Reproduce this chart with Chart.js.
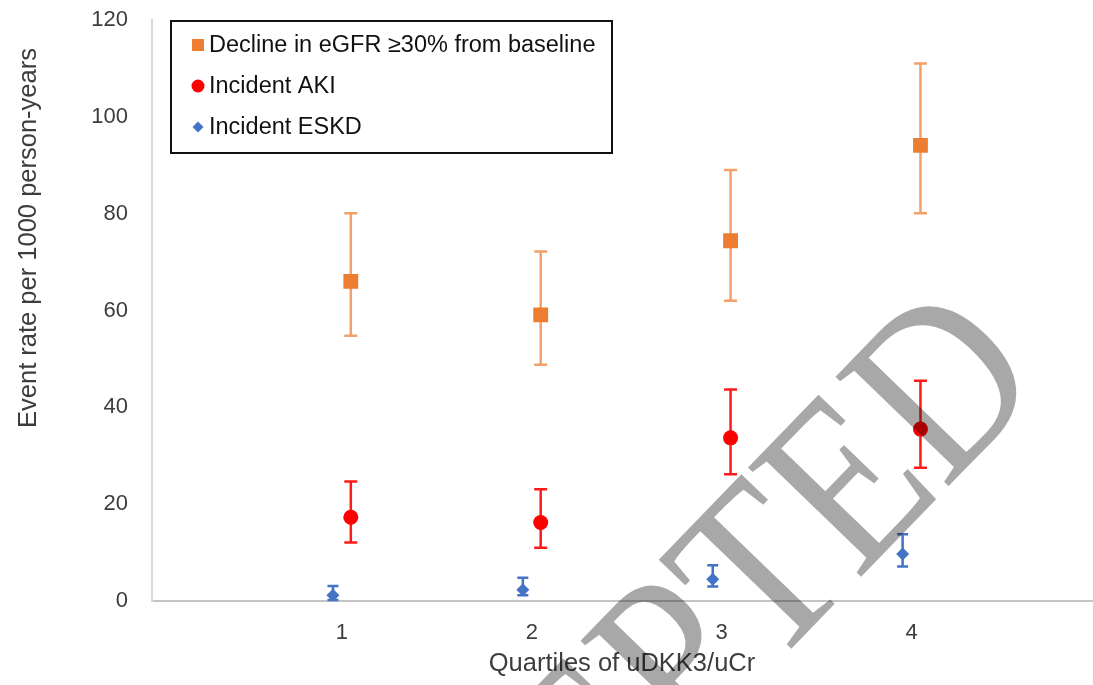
<!DOCTYPE html>
<html>
<head>
<meta charset="utf-8">
<script src="https://cdn.jsdelivr.net/npm/chart.js"></script>
<style>
  html, body { margin: 0; padding: 0; background: #fff; overflow: hidden; }
  #wrap { width: 1103px; height: 685px; position: relative; }
</style>
</head>
<body>
<div id="wrap"><canvas id="chart"></canvas></div>
<script>
// values
const quartiles = [1, 2, 3, 4];
const yTicks = [0, 20, 40, 60, 80, 100, 120];

const eGFRDecline = [66.0, 59.1, 74.4, 94.1];
const eGFRLow = [54.8, 48.8, 62.0, 80.1];
const eGFRHigh = [80.1, 72.2, 89.0, 111.0];

const akiRate = [17.3, 16.2, 33.7, 35.5];
const akiLow = [12.1, 11.0, 26.2, 27.5];
const akiHigh = [24.7, 23.1, 43.7, 45.5];

const eskdRate = [1.2, 2.3, 4.5, 9.7];
const eskdLow = [0.2, 1.2, 3.0, 7.1];
const eskdHigh = [3.1, 4.8, 7.4, 13.8];

const FONT = '"Liberation Sans", Arial, sans-serif';
const TEXT = '#3d3d3d';

function pts(vals, shift) {
  return quartiles.map((q, i) => ({ x: q + shift, y: vals[i] }));
}

// error bars, drawn under the markers
const errorBars = {
  id: 'errorBars',
  beforeDatasetsDraw(chart) {
    const ctx = chart.ctx;
    const y = chart.scales.y;
    chart.data.datasets.forEach((ds, i) => {
      const meta = chart.getDatasetMeta(i);
      ctx.save();
      ctx.strokeStyle = ds.errColor;
      ctx.lineWidth = 2.5;
      meta.data.forEach((pt, j) => {
        const top = y.getPixelForValue(ds.high[j]);
        const bot = y.getPixelForValue(ds.low[j]);
        const c = ds.capHalf;
        ctx.beginPath();
        ctx.moveTo(pt.x, top); ctx.lineTo(pt.x, bot);
        ctx.moveTo(pt.x - c, top); ctx.lineTo(pt.x + c, top);
        ctx.moveTo(pt.x - c, bot); ctx.lineTo(pt.x + c, bot);
        ctx.stroke();
      });
      ctx.restore();
    });
  }
};

// boxed legend, axis titles and the watermark
const extras = {
  id: 'extras',
  afterDraw(chart) {
    const ctx = chart.ctx;
    ctx.save();
    // legend box
    ctx.strokeStyle = '#111';
    ctx.lineWidth = 2;
    ctx.strokeRect(171, 21, 441, 132);
    ctx.font = '23.5px ' + FONT;
    ctx.textBaseline = 'middle';
    const rows = [45, 86, 127];
    chart.data.datasets.forEach((ds, i) => {
      const cy = rows[i], cx = 198;
      ctx.fillStyle = ds.backgroundColor;
      ctx.beginPath();
      if (ds.pointStyle === 'rect') ctx.rect(cx - 6, cy - 6, 12, 12);
      else if (ds.pointStyle === 'circle') ctx.arc(cx, cy, 6.5, 0, Math.PI * 2);
      else { ctx.moveTo(cx, cy - 5.5); ctx.lineTo(cx + 5.5, cy); ctx.lineTo(cx, cy + 5.5); ctx.lineTo(cx - 5.5, cy); }
      ctx.fill();
      ctx.fillStyle = '#111';
      ctx.textAlign = 'left';
      ctx.fillText(ds.label, 209, cy + 1);
    });
    // axis titles
    ctx.fillStyle = TEXT;
    ctx.textAlign = 'center';
    ctx.font = '25.5px ' + FONT;
    ctx.fillText('Quartiles of uDKK3/uCr', 622, 664);
    ctx.translate(29, 238);
    ctx.rotate(-Math.PI / 2);
    ctx.fillText('Event rate per 1000 person-years', 0, 0);
    ctx.restore();

    // "ACCEPTED" watermark
    ctx.save();
    ctx.globalCompositeOperation = 'multiply';
    ctx.fillStyle = '#a8a8a8';
    ctx.font = '240px "Liberation Serif", "Times New Roman", serif';
    ctx.textAlign = 'right';
    ctx.textBaseline = 'alphabetic';
    ctx.translate(1048, 383);
    ctx.rotate(-46 * Math.PI / 180);
    ctx.scale(0.86, 1);
    ctx.fillText('ACCEPTED', 0, 0);
    ctx.restore();
  }
};

new Chart(document.getElementById('chart'), {
  type: 'scatter',
  data: {
    datasets: [
      {
        label: 'Decline in eGFR \u226530% from baseline',
        data: pts(eGFRDecline, 0.047),
        low: eGFRLow, high: eGFRHigh,
        pointStyle: 'rect', pointRadius: 10.5,
        backgroundColor: '#ED7D31', borderColor: '#ED7D31', borderWidth: 0,
        errColor: '#F4A06A', capHalf: 6.5
      },
      {
        label: 'Incident AKI',
        data: pts(akiRate, 0.047),
        low: akiLow, high: akiHigh,
        pointStyle: 'circle', pointRadius: 7.5,
        backgroundColor: '#FF0000', borderColor: '#FF0000', borderWidth: 0,
        errColor: '#FF1A1A', capHalf: 6.5
      },
      {
        label: 'Incident ESKD',
        data: pts(eskdRate, -0.047),
        low: eskdLow, high: eskdHigh,
        pointStyle: 'rectRot', pointRadius: 6.5,
        backgroundColor: '#4472C4', borderColor: '#4472C4', borderWidth: 0,
        errColor: '#4472C4', capHalf: 5.5
      }
    ]
  },
  options: {
    responsive: true,
    maintainAspectRatio: false,
    animation: false,
    layout: { padding: { top: 20, right: 0, left: 0, bottom: 0 } },
    plugins: { legend: { display: false }, tooltip: { enabled: false } },
    scales: {
      x: {
        type: 'linear',
        min: 0, max: 4.953,
        afterBuildTicks: (s) => { s.ticks = quartiles.map(v => ({ value: v })); },
        afterFit: (s) => { s.height = 84; s.paddingLeft = 0; s.paddingRight = 0; },
        grid: { drawOnChartArea: false, drawTicks: false },
        border: { display: true, color: '#c4c4c4', width: 2 },
        ticks: { padding: 19, color: TEXT, font: { family: FONT, size: 22 } }
      },
      y: {
        min: 0, max: 120,
        afterBuildTicks: (s) => { s.ticks = yTicks.map(v => ({ value: v })); },
        afterFit: (s) => { s.width = 152; s.paddingTop = 0; s.paddingBottom = 0; },
        grid: { drawOnChartArea: false, drawTicks: false },
        border: { display: true, color: '#d9d9d9', width: 2 },
        ticks: { padding: 24, color: TEXT, font: { family: FONT, size: 22 } }
      }
    }
  },
  plugins: [errorBars, extras]
});
</script>
</body>
</html>
